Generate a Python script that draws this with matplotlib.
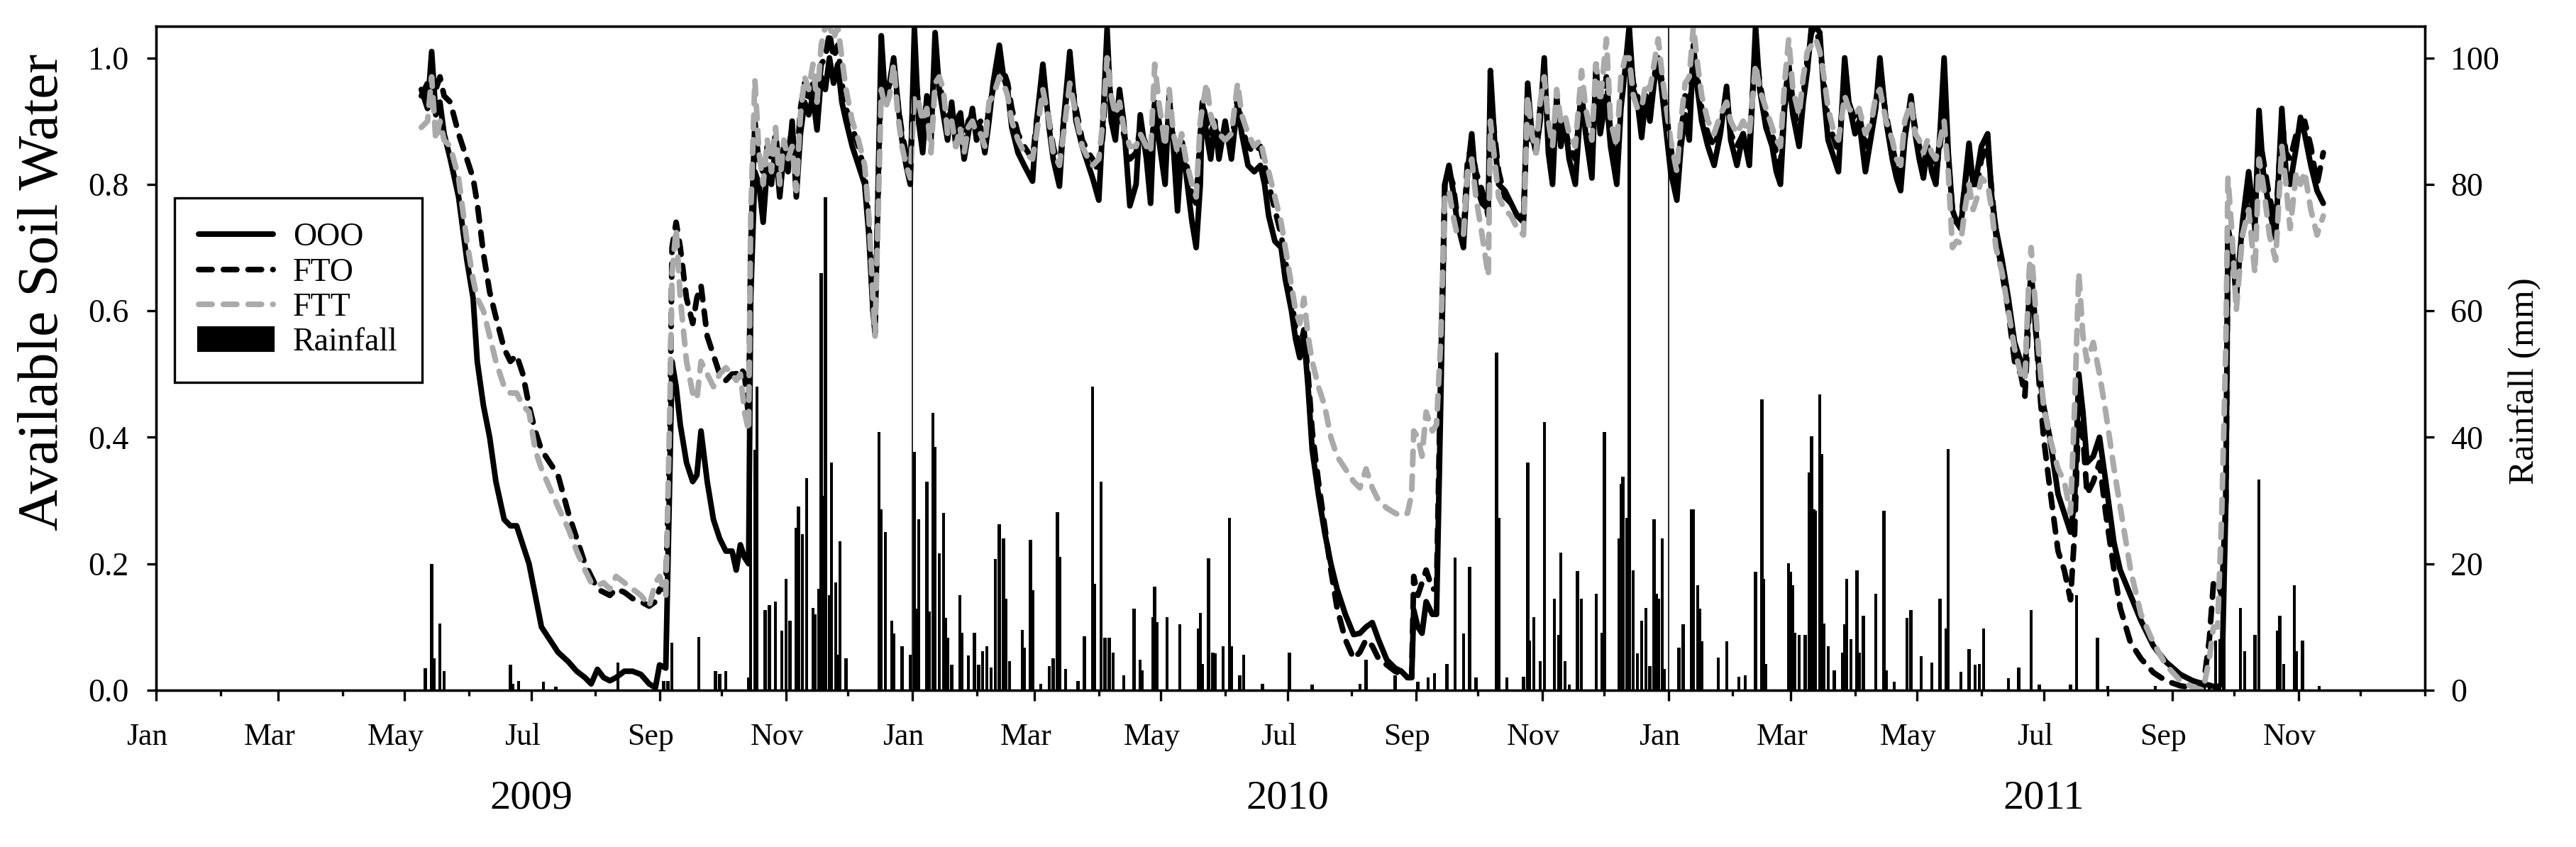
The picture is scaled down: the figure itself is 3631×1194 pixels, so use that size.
import matplotlib
matplotlib.use("Agg")
import matplotlib.pyplot as plt
import matplotlib.dates as mdates
import matplotlib.transforms as mtransforms
from matplotlib.lines import Line2D
from matplotlib.patches import Patch
import numpy as np

plt.rcParams['font.family'] = ['Liberation Serif', 'DejaVu Serif']

# days counted from 1 Jan 2009
day = [128, 131, 133, 135, 137, 139, 142, 146, 150, 153, 155, 158, 161, 164, 168, 171, 174, 177, 180, 183,
       186, 190, 194, 199, 203, 207, 210, 213, 216, 219, 222, 226, 230, 234, 238, 241, 243, 246, 248, 249,
       251, 253, 256, 259, 261, 263, 266, 269, 272, 275, 278, 280, 282, 284, 286, 287, 289, 291, 293, 295,
       297, 299, 301, 303, 305, 307, 309, 311, 313, 315, 317, 319, 321, 323, 325, 327, 329, 331, 333, 336,
       339, 342, 344, 346, 347, 349, 350, 352, 354, 356, 358, 360, 362, 364, 366, 368, 370, 372, 374, 376,
       378, 380, 382, 384, 386, 388, 390, 392, 394, 396, 398, 400, 402, 404, 407, 409, 411, 413, 416, 419,
       423, 425, 428, 431, 433, 436, 438, 441, 444, 447, 450, 452, 455, 457, 459, 461, 463, 465, 467, 470,
       473, 475, 478, 480, 482, 484, 487, 489, 491, 493, 495, 497, 500, 502, 504, 505, 507, 509, 511, 513,
       516, 519, 522, 524, 527, 530, 533, 535, 537, 540, 543, 545, 548, 550, 552, 554, 556, 558, 561, 564,
       567, 570, 574, 578, 581, 584, 587, 590, 594, 598, 601, 604, 606, 607, 609, 611, 613, 616, 618, 620,
       622, 624, 626, 628, 631, 633, 635, 637, 640, 643, 644, 646, 648, 651, 654, 657, 660, 662, 664, 666,
       668, 670, 672, 674, 676, 678, 680, 682, 685, 688, 690, 693, 695, 697, 700, 702, 705, 707, 709, 711,
       713, 715, 717, 719, 721, 723, 725, 727, 729, 731, 734, 736, 738, 740, 742, 744, 746, 749, 752, 755,
       758, 760, 763, 766, 769, 772, 774, 777, 780, 782, 784, 786, 788, 790, 793, 795, 797, 799, 801, 803,
       805, 807, 810, 812, 815, 817, 820, 822, 825, 828, 830, 832, 835, 838, 840, 842, 844, 847, 849, 851,
       853, 855, 857, 859, 861, 863, 865, 867, 869, 871, 873, 875, 877, 879, 881, 884, 886, 888, 891, 894,
       897, 900, 902, 904, 905, 907, 909, 911, 914, 918, 921, 924, 926, 928, 930, 932, 935, 938, 941, 945,
       948, 953, 958, 964, 970, 977, 983, 988, 991, 993, 995, 997, 999, 1000, 1002, 1004, 1007, 1010, 1013, 1015,
       1017, 1020, 1023, 1026, 1028, 1030, 1033, 1035, 1037, 1040, 1043, 1046]

ooo = [0.95, 0.92, 1.01, 0.91, 0.93, 0.88, 0.84, 0.78, 0.68, 0.62, 0.52, 0.45, 0.40, 0.33, 0.27, 0.26, 0.26, 0.23, 0.20, 0.15,
       0.10, 0.08, 0.06, 0.045, 0.03, 0.02, 0.01, 0.033, 0.02, 0.015, 0.02, 0.03, 0.03, 0.025, 0.01, 0.004, 0.04, 0.035, 0.35, 0.52,
       0.48, 0.42, 0.36, 0.33, 0.34, 0.41, 0.33, 0.27, 0.24, 0.22, 0.22, 0.19, 0.23, 0.21, 0.20, 0.62, 0.82, 0.80, 0.74, 0.83,
       0.80, 0.86, 0.78, 0.85, 0.82, 0.90, 0.78, 0.88, 0.93, 0.91, 0.94, 0.886, 0.97, 0.95, 1.00, 0.96, 0.99, 0.93, 0.90, 0.86,
       0.83, 0.80, 0.72, 0.60, 0.565, 0.88, 1.035, 0.93, 0.96, 1.00, 0.93, 0.87, 0.83, 0.80, 1.046, 0.90, 0.85, 0.94, 0.87, 1.04,
       0.95, 0.91, 0.87, 0.93, 0.86, 0.90, 0.84, 0.88, 0.92, 0.87, 0.89, 0.85, 0.90, 0.96, 1.02, 0.97, 0.95, 0.89, 0.85, 0.83,
       0.805, 0.90, 0.99, 0.89, 0.84, 0.797, 0.90, 1.01, 0.90, 0.86, 0.83, 0.81, 0.775, 0.90, 1.046, 0.90, 0.87, 0.95, 0.90, 0.766,
       0.80, 0.91, 0.84, 0.77, 0.93, 0.87, 0.80, 0.94, 0.86, 0.758, 0.86, 0.82, 0.74, 0.70, 0.80, 0.93, 0.88, 0.84, 0.90, 0.84,
       0.90, 0.84, 0.93, 0.88, 0.83, 0.82, 0.83, 0.80, 0.75, 0.71, 0.70, 0.65, 0.60, 0.555, 0.526, 0.56, 0.48, 0.38, 0.31, 0.25,
       0.20, 0.16, 0.12, 0.088, 0.09, 0.10, 0.107, 0.08, 0.048, 0.035, 0.03, 0.02, 0.02, 0.127, 0.10, 0.09, 0.14, 0.12, 0.12, 0.45,
       0.80, 0.83, 0.79, 0.74, 0.70, 0.82, 0.88, 0.80, 0.77, 0.76, 0.98, 0.87, 0.80, 0.79, 0.77, 0.75, 0.74, 0.96, 0.88, 0.85,
       0.90, 1.00, 0.85, 0.80, 0.94, 0.86, 0.90, 0.84, 0.80, 0.947, 0.88, 0.81, 0.99, 0.88, 0.94, 0.86, 0.80, 0.92, 0.98, 1.05,
       0.95, 0.93, 0.874, 0.94, 0.90, 0.96, 1.00, 0.94, 0.88, 0.82, 0.775, 0.86, 0.91, 0.87, 1.02, 0.95, 0.90, 0.86, 0.83, 0.88,
       0.955, 0.87, 0.83, 0.88, 0.83, 1.05, 0.95, 0.89, 0.86, 0.82, 0.80, 0.92, 0.97, 0.91, 0.86, 0.93, 0.98, 1.05, 1.05, 1.04,
       0.94, 0.87, 0.84, 0.82, 1.00, 0.93, 0.88, 0.90, 0.82, 0.88, 0.92, 1.00, 0.90, 0.84, 0.81, 0.79, 0.87, 0.94, 0.88, 0.84,
       0.81, 0.86, 0.82, 0.80, 0.88, 1.00, 0.85, 0.76, 0.74, 0.73, 0.80, 0.865, 0.80, 0.82, 0.86, 0.88, 0.78, 0.73, 0.68, 0.62,
       0.55, 0.52, 0.50, 0.62, 0.66, 0.58, 0.50, 0.45, 0.40, 0.31, 0.28, 0.25, 0.30, 0.50, 0.44, 0.36, 0.37, 0.40, 0.33, 0.233,
       0.19, 0.15, 0.11, 0.07, 0.045, 0.025, 0.015, 0.01, 0.008, 0.006, 0.005, 0.01, 0.30, 0.73, 0.70, 0.62, 0.74, 0.82, 0.73, 0.917,
       0.82, 0.76, 0.715, 0.92, 0.82, 0.80, 0.86, 0.906, 0.88, 0.83, 0.79, 0.77]

fto = [0.94, 0.96, 0.93, 0.95, 0.97, 0.94, 0.93, 0.88, 0.84, 0.81, 0.77, 0.69, 0.63, 0.59, 0.54, 0.52, 0.53, 0.50, 0.45, 0.41,
       0.38, 0.36, 0.34, 0.28, 0.24, 0.20, 0.18, 0.16, 0.155, 0.15, 0.16, 0.155, 0.145, 0.14, 0.133, 0.14, 0.16, 0.16, 0.40, 0.70,
       0.74, 0.70, 0.62, 0.58, 0.62, 0.64, 0.56, 0.53, 0.50, 0.49, 0.50, 0.50, 0.51, 0.50, 0.43, 0.70, 0.90, 0.83, 0.82, 0.86,
       0.84, 0.88, 0.82, 0.86, 0.85, 0.89, 0.82, 0.92, 0.96, 0.93, 0.96, 0.92, 0.99, 1.00, 1.04, 1.00, 1.02, 0.96, 0.92, 0.89,
       0.86, 0.82, 0.74, 0.60, 0.58, 0.86, 0.98, 0.94, 0.96, 0.98, 0.93, 0.88, 0.85, 0.82, 1.00, 0.92, 0.88, 0.93, 0.90, 1.00,
       0.96, 0.93, 0.90, 0.92, 0.88, 0.92, 0.86, 0.90, 0.91, 0.89, 0.90, 0.87, 0.92, 0.95, 0.99, 0.98, 0.96, 0.92, 0.88, 0.86,
       0.84, 0.90, 0.96, 0.90, 0.86, 0.82, 0.90, 0.98, 0.92, 0.87, 0.85, 0.84, 0.82, 0.88, 0.99, 0.93, 0.90, 0.92, 0.88, 0.84,
       0.85, 0.89, 0.86, 0.83, 0.93, 0.90, 0.84, 0.92, 0.87, 0.82, 0.87, 0.84, 0.78, 0.77, 0.88, 0.93, 0.90, 0.88, 0.90, 0.87,
       0.88, 0.86, 0.94, 0.89, 0.86, 0.85, 0.86, 0.83, 0.80, 0.76, 0.72, 0.68, 0.62, 0.57, 0.54, 0.57, 0.50, 0.41, 0.33, 0.26,
       0.19, 0.13, 0.08, 0.05, 0.06, 0.08, 0.07, 0.05, 0.04, 0.03, 0.025, 0.02, 0.02, 0.18, 0.15, 0.17, 0.19, 0.16, 0.16, 0.50,
       0.80, 0.82, 0.80, 0.75, 0.72, 0.84, 0.86, 0.82, 0.79, 0.75, 0.94, 0.88, 0.82, 0.78, 0.77, 0.75, 0.75, 0.93, 0.87, 0.86,
       0.92, 0.98, 0.88, 0.84, 0.92, 0.88, 0.89, 0.86, 0.84, 0.95, 0.90, 0.84, 0.96, 0.90, 0.97, 0.88, 0.83, 0.94, 0.98, 1.02,
       0.96, 0.94, 0.90, 0.94, 0.92, 0.97, 1.00, 0.96, 0.91, 0.86, 0.80, 0.88, 0.94, 0.92, 1.00, 0.97, 0.92, 0.88, 0.86, 0.89,
       0.94, 0.88, 0.86, 0.88, 0.86, 1.02, 0.96, 0.91, 0.88, 0.85, 0.83, 0.93, 0.99, 0.93, 0.88, 0.94, 1.00, 1.04, 1.05, 1.02,
       0.96, 0.90, 0.87, 0.85, 0.97, 0.93, 0.90, 0.91, 0.86, 0.89, 0.93, 0.97, 0.91, 0.86, 0.83, 0.81, 0.88, 0.93, 0.89, 0.86,
       0.83, 0.86, 0.84, 0.82, 0.86, 0.92, 0.84, 0.76, 0.74, 0.74, 0.80, 0.84, 0.80, 0.80, 0.84, 0.86, 0.79, 0.72, 0.66, 0.60,
       0.52, 0.50, 0.465, 0.60, 0.66, 0.58, 0.48, 0.40, 0.32, 0.22, 0.19, 0.143, 0.25, 0.45, 0.40, 0.31, 0.33, 0.36, 0.28, 0.19,
       0.13, 0.075, 0.05, 0.028, 0.015, 0.007, 0.004, 0.003, 0.08, 0.17, 0.17, 0.15, 0.30, 0.72, 0.68, 0.64, 0.72, 0.80, 0.72, 0.88,
       0.84, 0.78, 0.74, 0.90, 0.85, 0.84, 0.88, 0.89, 0.90, 0.86, 0.80, 0.85]

ftt = [0.89, 0.90, 0.97, 0.87, 0.90, 0.87, 0.86, 0.81, 0.71, 0.65, 0.62, 0.60, 0.56, 0.52, 0.48, 0.47, 0.47, 0.45, 0.44, 0.38,
       0.35, 0.32, 0.29, 0.255, 0.22, 0.19, 0.17, 0.165, 0.17, 0.16, 0.18, 0.17, 0.16, 0.15, 0.133, 0.17, 0.18, 0.15, 0.45, 0.66,
       0.73, 0.62, 0.52, 0.47, 0.46, 0.52, 0.50, 0.48, 0.50, 0.51, 0.50, 0.49, 0.50, 0.44, 0.41, 0.75, 0.965, 0.85, 0.80, 0.87,
       0.82, 0.89, 0.80, 0.87, 0.84, 0.86, 0.79, 0.91, 0.97, 0.95, 0.99, 0.93, 1.02, 1.05, 1.05, 1.03, 1.05, 1.00, 0.95, 0.90,
       0.87, 0.83, 0.75, 0.62, 0.56, 0.82, 0.95, 0.92, 0.94, 0.99, 0.91, 0.86, 0.83, 0.81, 0.94, 0.93, 0.90, 0.92, 0.85, 0.96,
       0.97, 0.95, 0.88, 0.90, 0.86, 0.89, 0.85, 0.89, 0.90, 0.88, 0.88, 0.86, 0.93, 0.94, 0.97, 0.96, 0.94, 0.90, 0.87, 0.85,
       0.84, 0.88, 0.95, 0.90, 0.85, 0.83, 0.88, 0.96, 0.91, 0.86, 0.84, 0.83, 0.84, 0.90, 1.00, 0.94, 0.91, 0.93, 0.89, 0.86,
       0.86, 0.88, 0.86, 0.85, 0.99, 0.93, 0.86, 0.95, 0.88, 0.85, 0.88, 0.84, 0.80, 0.78, 0.90, 0.92, 0.96, 0.91, 0.89, 0.88,
       0.87, 0.88, 0.96, 0.91, 0.88, 0.86, 0.87, 0.84, 0.82, 0.78, 0.74, 0.70, 0.64, 0.60, 0.58, 0.62, 0.56, 0.52, 0.48, 0.45,
       0.40, 0.37, 0.35, 0.33, 0.32, 0.35, 0.32, 0.30, 0.288, 0.28, 0.276, 0.28, 0.31, 0.41, 0.40, 0.37, 0.44, 0.41, 0.42, 0.55,
       0.78, 0.79, 0.75, 0.72, 0.72, 0.82, 0.84, 0.78, 0.72, 0.655, 0.90, 0.84, 0.78, 0.76, 0.75, 0.73, 0.72, 0.94, 0.88, 0.85,
       0.93, 0.97, 0.90, 0.86, 0.95, 0.90, 0.91, 0.88, 0.86, 0.98, 0.92, 0.87, 0.99, 0.93, 1.03, 0.90, 0.86, 0.97, 1.00, 1.00,
       0.94, 0.92, 0.92, 0.96, 0.95, 0.99, 1.03, 0.97, 0.92, 0.87, 0.82, 0.90, 0.96, 0.97, 1.05, 0.99, 0.94, 0.90, 0.88, 0.91,
       0.93, 0.90, 0.88, 0.90, 0.88, 0.99, 0.95, 0.92, 0.89, 0.87, 0.86, 0.96, 1.03, 0.95, 0.91, 0.97, 1.01, 1.02, 1.03, 1.01,
       0.97, 0.92, 0.88, 0.87, 0.94, 0.92, 0.91, 0.92, 0.88, 0.90, 0.94, 0.95, 0.90, 0.87, 0.84, 0.83, 0.90, 0.93, 0.88, 0.87,
       0.85, 0.87, 0.85, 0.84, 0.87, 0.90, 0.82, 0.70, 0.71, 0.707, 0.76, 0.80, 0.76, 0.78, 0.81, 0.80, 0.76, 0.70, 0.66, 0.60,
       0.54, 0.50, 0.49, 0.66, 0.70, 0.61, 0.52, 0.45, 0.40, 0.35, 0.33, 0.28, 0.45, 0.66, 0.56, 0.52, 0.55, 0.50, 0.44, 0.35,
       0.29, 0.19, 0.12, 0.075, 0.04, 0.015, 0.005, 0.0, 0.05, 0.10, 0.10, 0.28, 0.55, 0.81, 0.72, 0.60, 0.72, 0.76, 0.66, 0.84,
       0.80, 0.72, 0.68, 0.86, 0.80, 0.73, 0.82, 0.80, 0.82, 0.76, 0.72, 0.75]

rain_day = [130, 133, 134, 137, 139, 171, 172, 175, 187, 193, 223, 245, 247, 249, 262, 270, 272, 275, 286, 287,
            289, 290, 294, 296, 299, 302, 304, 306, 309, 310, 312, 314, 317, 318, 320, 321, 322, 323, 325, 326,
            328, 329, 330, 333, 349, 350, 352, 355, 356, 360, 364, 366, 367, 368, 372, 373, 375, 376, 378, 380,
            381, 382, 384, 388, 389, 392, 395, 397, 399, 401, 403, 405, 407, 409, 410, 412, 418, 419, 422, 423,
            427, 431, 433, 435, 436, 439, 445, 448, 452, 453, 456, 458, 460, 462, 467, 472, 475, 476, 481, 482,
            483, 488, 494, 503, 504, 505, 508, 510, 511, 515, 518, 519, 523, 525, 534, 547, 558, 581, 584, 598,
            609, 614, 617, 623, 627, 631, 634, 637, 647, 648, 652, 660, 662, 663, 665, 668, 670, 675, 677, 678,
            680, 682, 686, 688, 695, 698, 699, 706, 707, 708, 710, 711, 713, 715, 717, 719, 721, 723, 724, 725,
            727, 728, 735, 737, 741, 742, 744, 745, 746, 754, 758, 764, 767, 772, 775, 776, 777, 788, 789, 790,
            791, 793, 796, 798, 799, 800, 801, 803, 804, 805, 807, 810, 814, 815, 816, 818, 821, 822, 824, 830,
            834, 835, 839, 845, 847, 852, 857, 861, 864, 865, 871, 875, 878, 880, 882, 894, 899, 905, 909, 924,
            927, 937, 942, 965, 991, 994, 996, 998, 1006, 1008, 1013, 1015, 1024, 1025, 1027, 1032, 1033, 1036, 1044]

rain_mm = [3.5, 20, 5, 10.5, 3, 4, 1, 1.5, 1.3, 0.6, 4.4, 1.5, 1.5, 7.5, 8.4, 3, 2.6, 3, 2, 44,
           38, 48, 12.7, 13.5, 14, 9.4, 17.6, 11, 25.7, 29, 24.7, 33.5, 13, 12, 16, 66, 30.7, 78, 15, 36,
           17, 5.6, 23.6, 5, 40.8, 28.6, 25, 11, 9, 7, 5.6, 37.7, 12.9, 27, 33, 12.5, 43.9, 38.5, 21.6, 28,
           11.4, 8.3, 4, 15, 9.1, 5.5, 9.1, 4, 6.2, 6.9, 3.6, 20.7, 26.3, 24, 14.5, 4.6, 9.5, 6.7, 23.8, 15.8,
           1, 3.8, 5, 28.2, 21.1, 3.4, 1.5, 8.5, 48, 16.8, 33, 8.3, 8.3, 6, 2.3, 12.9, 4.8, 3.1, 11.6, 16.4,
           10.8, 11.6, 10.4, 9.8, 12.2, 4.2, 20.9, 6, 5.8, 7, 27.3, 7, 2.3, 5.6, 1, 6, 0.9, 1, 4.8, 2.3,
           1.3, 2, 2.7, 4.2, 21, 9, 19.5, 2, 53.4, 27.3, 2, 2.1, 36, 7.9, 11.6, 4.6, 42.4, 14.5, 8.7, 21.8,
           4.6, 0.9, 18.9, 14.5, 15.3, 9.1, 40.8, 24, 32.7, 33.8, 27.3, 108, 19, 5.8, 11, 13, 3.8, 27, 15.3, 14.5,
           24, 3.4, 6.7, 10.4, 28.6, 28.6, 16.6, 12.9, 7.7, 5.2, 7.7, 2.1, 2.3, 18.7, 46, 17.6, 4.2, 20.1, 18.7, 16.6,
           9.1, 8.7, 8.7, 34.4, 40.2, 28.6, 28.4, 46.8, 37.3, 10.6, 7, 3.1, 6, 10.4, 17.6, 8.1, 19, 6, 11.8, 15.3,
           28.4, 3.1, 1.3, 11.4, 12.7, 5.4, 4.4, 14.5, 9.8, 38.1, 2.9, 6.5, 4, 4.2, 9.8, 1.9, 3.6, 12.7, 0.9, 0.9,
           15, 8.3, 0.7, 0.7, 1, 7.9, 8.1, 7.9, 13, 6.2, 8.7, 33.3, 9.4, 11.8, 4.2, 16.6, 6.2, 7.9, 0.7]

years = ['2009', '2010', '2011']

start = np.datetime64('2009-01-01')
dates = start + np.array(day).astype('timedelta64[D]')
rain_dates = start + np.array(rain_day).astype('timedelta64[D]')

fig = plt.figure(figsize=(3631 / 300, 1194 / 300), dpi=300)
ax = fig.add_axes([0.0606, 0.1851, 0.8807, 0.7839])
ax2 = ax.twinx()

# rainfall behind the soil water lines
ax2.bar(rain_dates, rain_mm, width=1.5, color='black', linewidth=0)
ax.set_zorder(ax2.get_zorder() + 1)
ax.patch.set_visible(False)

lw = 1.9
dash = (0, (2.4, 2.0))
ax.plot(dates, ooo, color='black', lw=lw, solid_capstyle='round', solid_joinstyle='round')
ax.plot(dates, fto, color='black', lw=lw, ls=dash, dash_capstyle='round', dash_joinstyle='round')
ax.plot(dates, ftt, color='#aaaaaa', lw=lw, ls=dash, dash_capstyle='round', dash_joinstyle='round')

for yr in ['2010-01-01', '2011-01-01']:
    ax.axvline(np.datetime64(yr), color='black', lw=0.4)

ax.set_xlim(np.datetime64('2009-01-01'), np.datetime64('2011-12-31T23'))
ax.set_ylim(0, 1.05)
ax2.set_ylim(0, 105)

major = [np.datetime64('%s-%02d-01' % (y, m)) for y in years for m in (1, 3, 5, 7, 9, 11)]
minor = [np.datetime64('%s-%02d-01' % (y, m)) for y in years for m in range(1, 13)] + [np.datetime64('2012-01-01')]
ax.set_xticks(major)
ax.set_xticks(minor, minor=True)
ax.xaxis.set_major_formatter(mdates.DateFormatter('%b'))
ax.set_yticks([0, 0.2, 0.4, 0.6, 0.8, 1.0])
ax.set_yticklabels(['0.0', '0.2', '0.4', '0.6', '0.8', '1.0'])
ax2.set_yticks([0, 20, 40, 60, 80, 100])

ax.tick_params(axis='x', which='major', length=3.5, width=0.8, pad=7.5, labelsize=10.5)
ax.tick_params(axis='x', which='minor', length=2, width=0.8)
ax.tick_params(axis='y', length=3.2, width=0.8, pad=6, labelsize=11)
ax2.tick_params(axis='y', length=3.2, width=0.8, pad=5.5, labelsize=11)
for a in (ax, ax2):
    for s in a.spines.values():
        s.set_linewidth(0.8)

# month labels sit a little left of their ticks in the original
shift = mtransforms.ScaledTranslation(-3 / 72, 0, fig.dpi_scale_trans)
for lab in ax.get_xticklabels():
    lab.set_transform(lab.get_transform() + shift)

fig.text(0.017, 0.655, 'Available Soil Water', rotation=90, fontsize=19.5,
         ha='center', va='center')
fig.text(0.98, 0.55, 'Rainfall (mm)', rotation=90, fontsize=12.3,
         ha='center', va='center')

trans = mtransforms.blended_transform_factory(ax.transData, fig.transFigure)
for y in years:
    ax.text(mdates.date2num(np.datetime64(y + '-07-01')), 0.057, y, transform=trans,
            ha='center', va='center', fontsize=14)

handles = [Line2D([], [], color='black', lw=lw, solid_capstyle='round'),
           Line2D([], [], color='black', lw=lw, ls=dash, dash_capstyle='round'),
           Line2D([], [], color='#aaaaaa', lw=lw, ls=dash, dash_capstyle='round'),
           Patch(facecolor='black', edgecolor='black')]
leg = ax.legend(handles, ['OOO', 'FTO', 'FTT', 'Rainfall'], loc='upper left',
                bbox_to_anchor=(0.008, 0.741), borderaxespad=0, fontsize=11,
                handlelength=2.3, fancybox=False, framealpha=1, edgecolor='black',
                labelspacing=0.15, borderpad=0.75, handletextpad=0.6)
leg.get_frame().set_linewidth(0.8)

fig.savefig('out.png', dpi=300)
